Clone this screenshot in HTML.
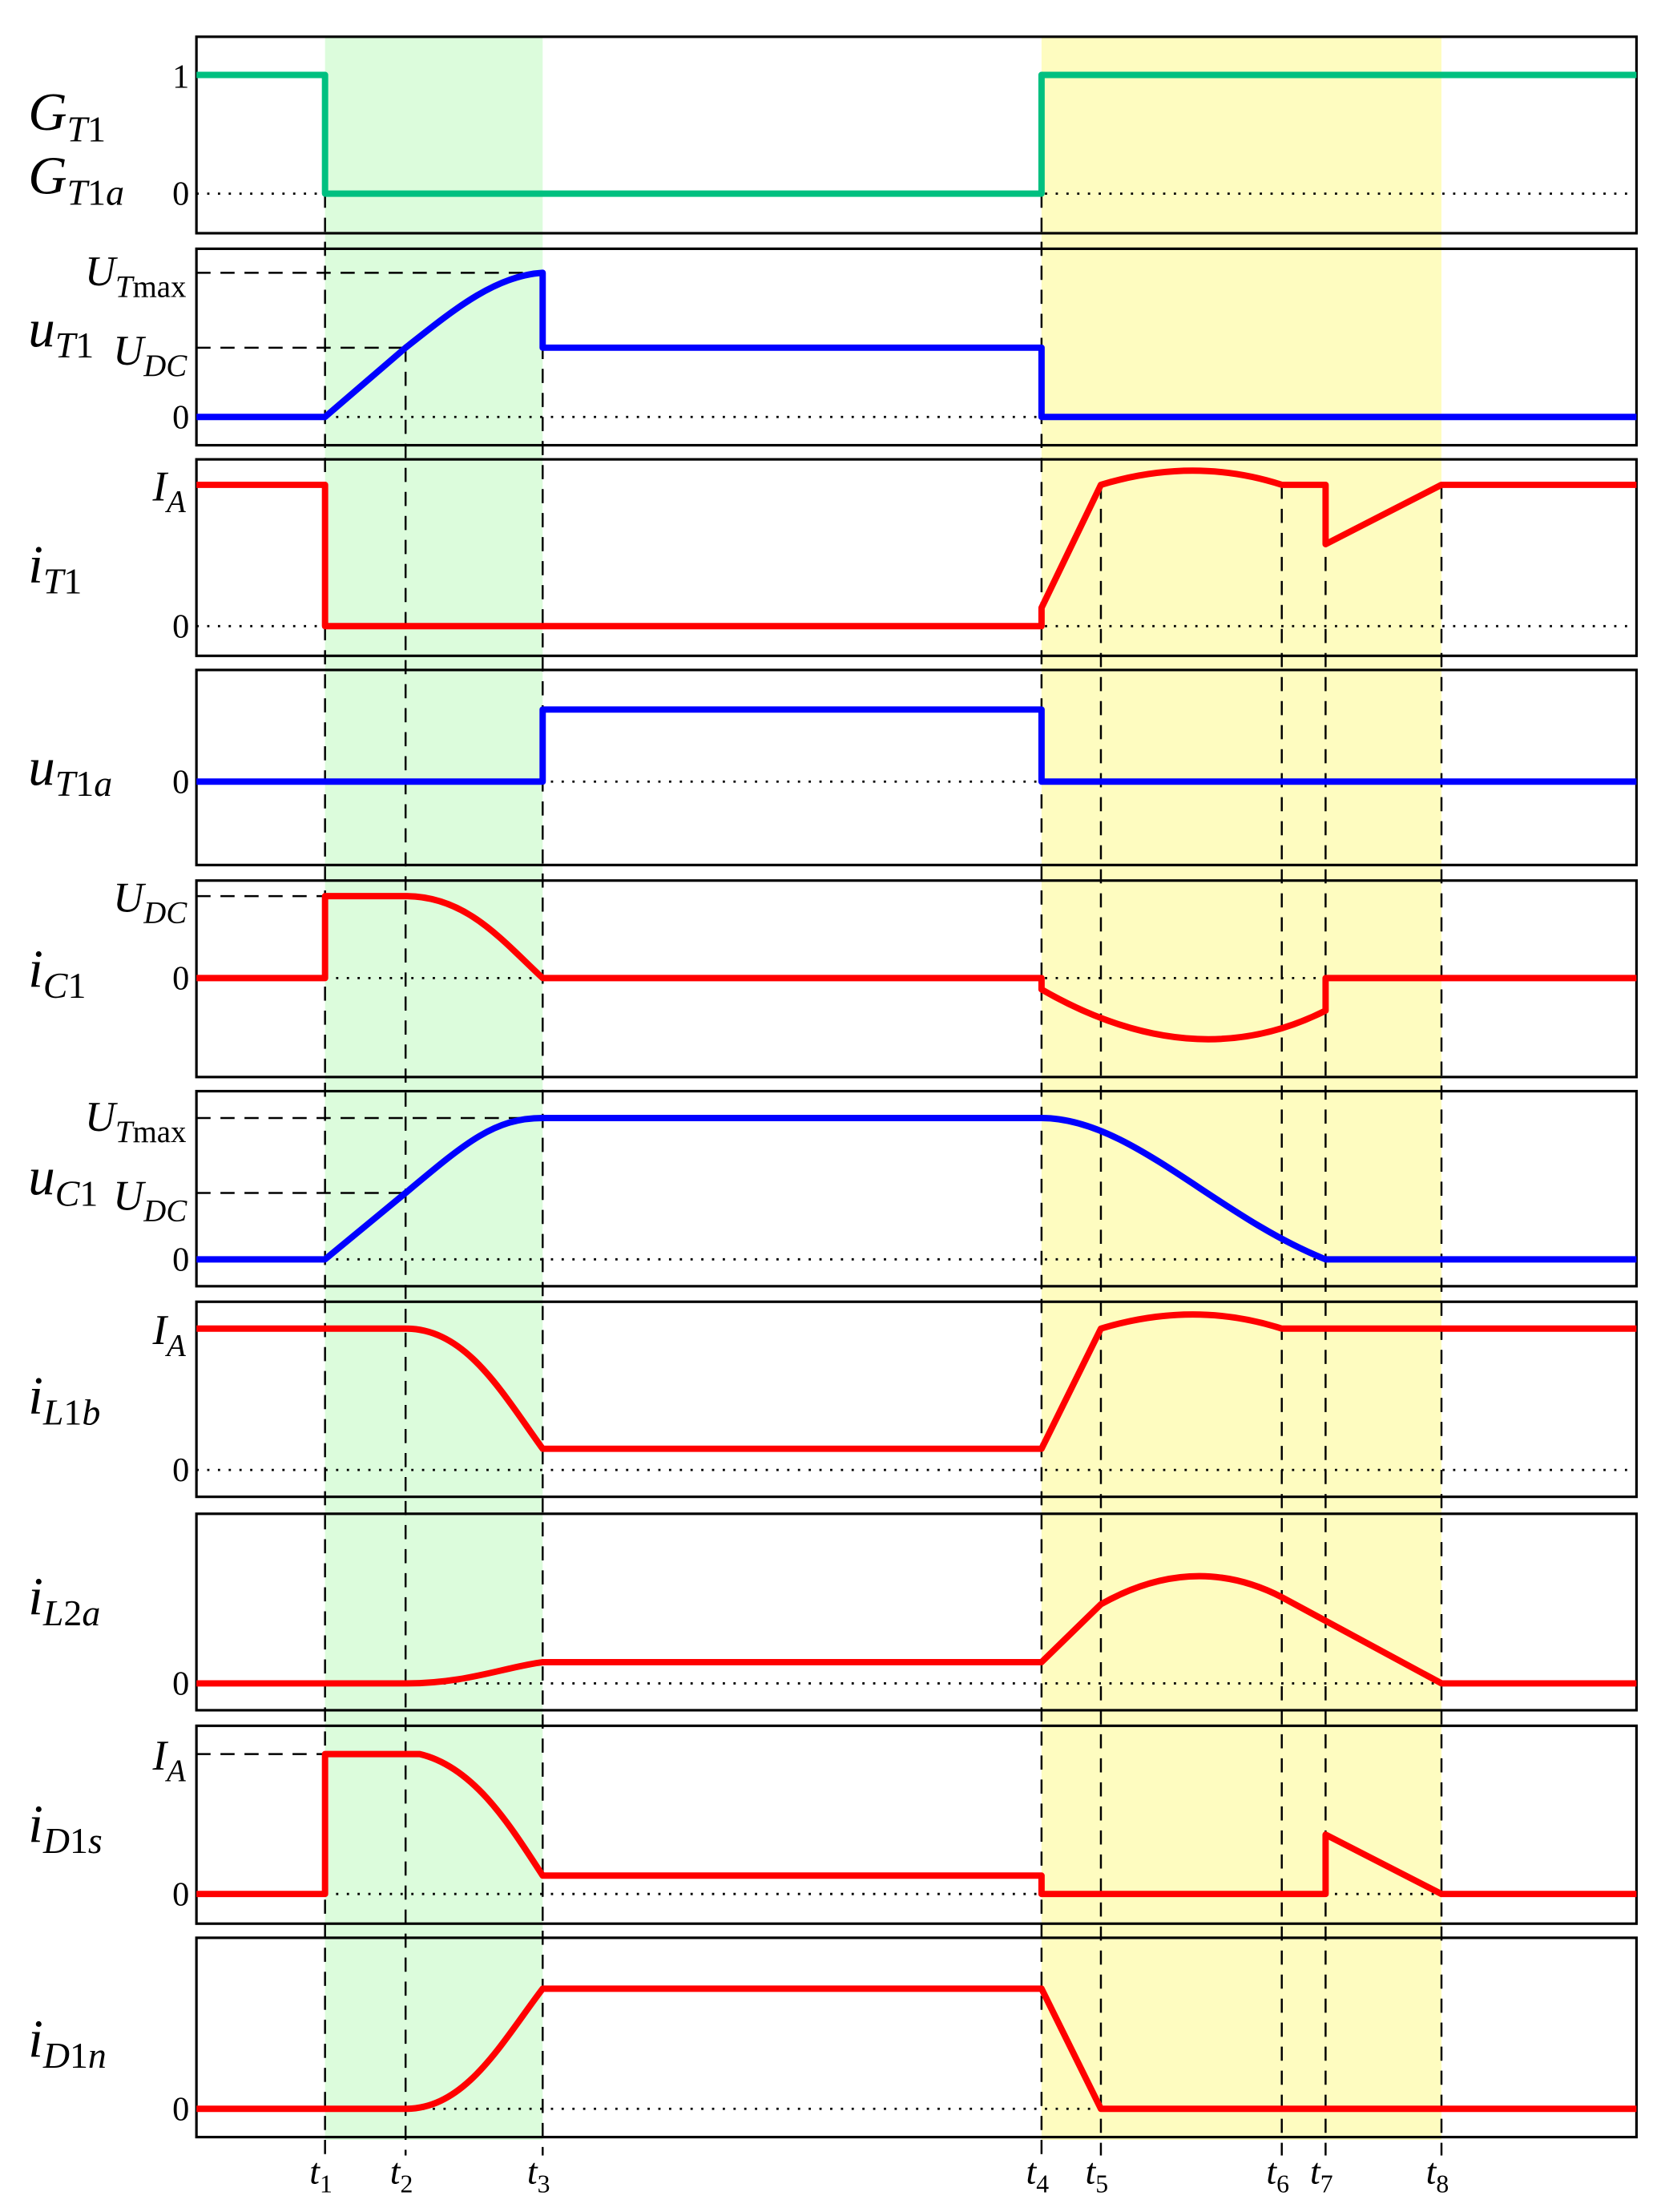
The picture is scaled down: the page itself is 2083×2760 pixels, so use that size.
<!DOCTYPE html>
<html><head><meta charset="utf-8"><style>
html,body{margin:0;padding:0;background:#fff}
svg{display:block}
text{font-family:"Liberation Serif",serif;fill:#000}
.it{font-style:italic}
</style></head><body>
<svg width="2083" height="2760" viewBox="0 0 1181 1565" preserveAspectRatio="none" xmlns="http://www.w3.org/2000/svg">
<rect x="230" y="26" width="154" height="1488" fill="#dcfcdc"/>
<rect x="737" y="26" width="283" height="1488" fill="#fefcc0"/>
<g fill="none" stroke="#000" stroke-width="1.8">
<rect x="139" y="26" width="1019" height="139"/>
<rect x="139" y="176" width="1019" height="139"/>
<rect x="139" y="325" width="1019" height="139"/>
<rect x="139" y="474" width="1019" height="138"/>
<rect x="139" y="623" width="1019" height="139"/>
<rect x="139" y="772" width="1019" height="138"/>
<rect x="139" y="921" width="1019" height="138"/>
<rect x="139" y="1071" width="1019" height="139"/>
<rect x="139" y="1221" width="1019" height="140"/>
<rect x="139" y="1371" width="1019" height="141"/>
</g>
<g stroke="#000" stroke-width="1.4" stroke-dasharray="10,7" fill="none">
<line x1="230" y1="137" x2="230" y2="1525"/>
<line x1="287" y1="246" x2="287" y2="1525"/>
<line x1="384" y1="193" x2="384" y2="1525"/>
<line x1="737" y1="137" x2="737" y2="1525"/>
<line x1="779" y1="343" x2="779" y2="1525"/>
<line x1="907" y1="343" x2="907" y2="1525"/>
<line x1="938" y1="343" x2="938" y2="1525"/>
<line x1="1020" y1="343" x2="1020" y2="1525"/>
<line x1="139" y1="193" x2="384" y2="193"/>
<line x1="139" y1="246" x2="287" y2="246"/>
<line x1="139" y1="634" x2="287" y2="634"/>
<line x1="139" y1="791" x2="384" y2="791"/>
<line x1="139" y1="844" x2="287" y2="844"/>
<line x1="139" y1="1241" x2="297" y2="1241"/>
</g>
<g stroke="#000" stroke-width="1.6" stroke-dasharray="1.6,6" fill="none">
<line x1="139" y1="137" x2="1158" y2="137"/>
<line x1="139" y1="295" x2="1158" y2="295"/>
<line x1="139" y1="443" x2="1158" y2="443"/>
<line x1="139" y1="553" x2="1158" y2="553"/>
<line x1="139" y1="692" x2="1158" y2="692"/>
<line x1="139" y1="891" x2="1158" y2="891"/>
<line x1="139" y1="1040" x2="1158" y2="1040"/>
<line x1="139" y1="1191" x2="1158" y2="1191"/>
<line x1="139" y1="1340" x2="1158" y2="1340"/>
<line x1="139" y1="1492" x2="1158" y2="1492"/>
</g>
<g fill="none" stroke-width="4.5" stroke-linejoin="round">
<path stroke="#00c080" d="M139 53H230V137H737V53H1158"/>
<path stroke="#0000ff" d="M139 295H230L287 246C320 220 350 195 384 193V246H737V295H1158"/>
<path stroke="#ff0000" d="M139 343H230V443H737V430L779 343Q845 323 907 343H938V385L1020 343H1158"/>
<path stroke="#0000ff" d="M139 553H384V502H737V553H1158"/>
<path stroke="#ff0000" d="M139 692H230V634H287C330 634 355 665 384 692H737V700Q845 762 938 715V692H1158"/>
<path stroke="#0000ff" d="M139 891H230L287 844C330 808 350 791 384 791H737C800 791 860 860 938 891H1158"/>
<path stroke="#ff0000" d="M139 940H287C330 940 355 985 384 1025H737L779 940Q845 920 907 940H1158"/>
<path stroke="#ff0000" d="M139 1191H287C330 1191 355 1180 384 1176H737L779 1135Q845 1098 907 1130L1020 1191H1158"/>
<path stroke="#ff0000" d="M139 1340H230V1241H297C335 1250 360 1290 384 1327H737V1340H938V1298L1020 1340H1158"/>
<path stroke="#ff0000" d="M139 1492H287C330 1492 355 1445 384 1407H737L779 1492H1158"/>
</g>
<g font-size="24">
<text x="122" y="62">1</text>
<text x="122" y="145">0</text>
<text x="122" y="303">0</text>
<text x="122" y="451">0</text>
<text x="122" y="561">0</text>
<text x="122" y="700">0</text>
<text x="122" y="899">0</text>
<text x="122" y="1048">0</text>
<text x="122" y="1199">0</text>
<text x="122" y="1348">0</text>
<text x="122" y="1500">0</text>
</g>
<g class="it" font-size="38">
<text x="20" y="92">G<tspan font-size="26" dy="8">T</tspan><tspan font-style="normal" font-size="26">1</tspan></text>
<text x="20" y="137">G<tspan font-size="26" dy="8">T</tspan><tspan font-style="normal" font-size="26">1</tspan><tspan font-size="26">a</tspan></text>
<text x="20" y="245">u<tspan font-size="26" dy="8">T</tspan><tspan font-style="normal" font-size="26">1</tspan></text>
<text x="20" y="412">i<tspan font-size="26" dy="8">T</tspan><tspan font-style="normal" font-size="26">1</tspan></text>
<text x="20" y="555">u<tspan font-size="26" dy="8">T</tspan><tspan font-style="normal" font-size="26">1</tspan><tspan font-size="26">a</tspan></text>
<text x="20" y="698">i<tspan font-size="26" dy="8">C</tspan><tspan font-style="normal" font-size="26">1</tspan></text>
<text x="20" y="845">u<tspan font-size="26" dy="8">C</tspan><tspan font-style="normal" font-size="26">1</tspan></text>
<text x="20" y="1000">i<tspan font-size="26" dy="8">L</tspan><tspan font-style="normal" font-size="26">1</tspan><tspan font-size="26">b</tspan></text>
<text x="20" y="1142">i<tspan font-size="26" dy="8">L</tspan><tspan font-style="normal" font-size="26">2</tspan><tspan font-size="26">a</tspan></text>
<text x="20" y="1303">i<tspan font-size="26" dy="8">D</tspan><tspan font-style="normal" font-size="26">1</tspan><tspan font-size="26">s</tspan></text>
<text x="20" y="1455">i<tspan font-size="26" dy="8">D</tspan><tspan font-style="normal" font-size="26">1</tspan><tspan font-size="26">n</tspan></text>
</g>
<g class="it" font-size="30">
<text x="60" y="202">U<tspan font-size="22" dy="8">T</tspan><tspan font-style="normal" font-size="22">max</tspan></text>
<text x="80" y="258">U<tspan font-size="22" dy="8">DC</tspan></text>
<text x="108" y="354">I<tspan font-size="22" dy="8">A</tspan></text>
<text x="80" y="645">U<tspan font-size="22" dy="8">DC</tspan></text>
<text x="60" y="800">U<tspan font-size="22" dy="8">T</tspan><tspan font-style="normal" font-size="22">max</tspan></text>
<text x="80" y="856">U<tspan font-size="22" dy="8">DC</tspan></text>
<text x="108" y="951">I<tspan font-size="22" dy="8">A</tspan></text>
<text x="108" y="1252">I<tspan font-size="22" dy="8">A</tspan></text>
</g>
<g class="it" font-size="26">
<text x="219" y="1545">t<tspan font-style="normal" font-size="18" dy="6">1</tspan></text>
<text x="276" y="1545">t<tspan font-style="normal" font-size="18" dy="6">2</tspan></text>
<text x="373" y="1545">t<tspan font-style="normal" font-size="18" dy="6">3</tspan></text>
<text x="726" y="1545">t<tspan font-style="normal" font-size="18" dy="6">4</tspan></text>
<text x="768" y="1545">t<tspan font-style="normal" font-size="18" dy="6">5</tspan></text>
<text x="896" y="1545">t<tspan font-style="normal" font-size="18" dy="6">6</tspan></text>
<text x="927" y="1545">t<tspan font-style="normal" font-size="18" dy="6">7</tspan></text>
<text x="1009" y="1545">t<tspan font-style="normal" font-size="18" dy="6">8</tspan></text>
</g>
</svg>
</body></html>
